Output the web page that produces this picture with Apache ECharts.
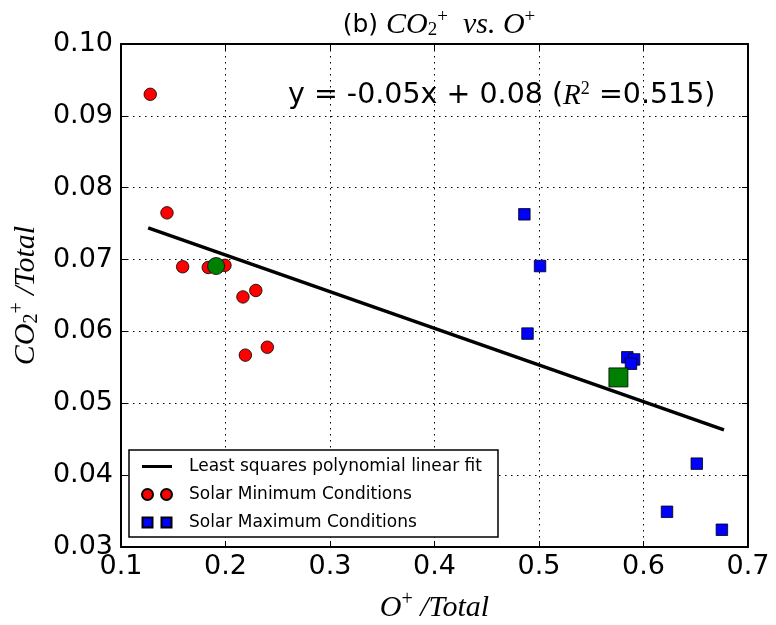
<!DOCTYPE html>
<html><head><meta charset="utf-8">
<script src="https://cdn.jsdelivr.net/npm/echarts@6/dist/echarts.min.js"></script>
<style>html,body{margin:0;padding:0;background:#fff}#c{width:776px;height:625px}</style>
</head><body><div id="c"></div>
<script>
// Solar minimum (red circles): [O+/Total, CO2+/Total]
const solarMin = [
  [0.128, 0.0930], [0.144, 0.0765], [0.159, 0.0690], [0.1835, 0.0689],
  [0.1995, 0.0692], [0.229, 0.0657], [0.2167, 0.0648], [0.240, 0.0578],
  [0.219, 0.0567]
];
// Solar maximum (blue squares)
const solarMax = [
  [0.486, 0.0763], [0.501, 0.0691], [0.489, 0.0597], [0.5845, 0.0564],
  [0.591, 0.0561], [0.588, 0.0555], [0.651, 0.0416], [0.6225, 0.0349],
  [0.675, 0.0324]
];
// Means
const minMean = [[0.191, 0.0691]];
const maxMean = [[0.576, 0.0536]];
// Least-squares fit endpoints
const fitLine = [[0.126, 0.0744], [0.677, 0.0463]];
const xTicks = [0.1, 0.2, 0.3, 0.4, 0.5, 0.6, 0.7];
const yTicks = [0.03, 0.04, 0.05, 0.06, 0.07, 0.08, 0.09, 0.10];

const chart = echarts.init(document.getElementById('c'), null, {renderer: 'canvas'});
const SERIF = 'Liberation Serif';
const tickFont = {fontFamily: 'DejaVu Sans', fontSize: 27, color: '#000'};
const dotted = {color: '#000', width: 1, type: [1.5, 4.5]};
const frame = {show: true, lineStyle: {color: '#000', width: 2}};
const tickIn = {show: true, inside: true, length: 6, lineStyle: {color: '#000', width: 1}};
const it = (size, extra) => Object.assign({fontFamily: SERIF, fontStyle: 'italic', fontWeight: 'normal', fontSize: size, color: '#000'}, extra || {});
const up = (size, pad) => ({fontFamily: SERIF, fontWeight: 'normal', fontSize: size, color: '#000', padding: [0, 0, pad, 0]});

chart.setOption({
  animation: false,
  backgroundColor: '#fff',
  grid: {left: 121, right: 28, top: 44, bottom: 78, containLabel: false, outerBoundsMode: 'none'},
  title: [{
    text: '{a|(b) }{b|CO}{s|2}{p|+}{b|  vs. O}{p|+}',
    left: 434, top: 3, textAlign: 'center',
    textStyle: {rich: {
      a: {fontFamily: 'DejaVu Sans', fontWeight: 'normal', fontSize: 25, color: '#000'},
      b: it(30),
      s: {fontFamily: SERIF, fontWeight: 'normal', fontSize: 19, color: '#000', padding: [10, 0, 0, 0]},
      p: up(19, 15)
    }}
  }, {
    text: '{a|y = -0.05x + 0.08 (}{b|R}{c|2}{a| =0.515)}',
    left: 283, top: 75,
    textStyle: {rich: {
      a: {fontFamily: 'DejaVu Sans', fontWeight: 'normal', fontSize: 28.5, color: '#000'},
      b: it(29),
      c: up(18, 14)
    }}
  }],
  legend: {
    orient: 'vertical', left: 129, top: 450,
    backgroundColor: '#fff', borderColor: '#000', borderWidth: 1.5,
    padding: [8, 16, 6, 12], itemGap: 11, itemWidth: 30, itemHeight: 11,
    textStyle: {fontFamily: 'DejaVu Sans', fontSize: 17, color: '#000', padding: [0, 0, 0, 12]},
    data: [
      {name: 'Least squares polynomial linear fit', icon: 'path://M0,0M30,11M0,4h30v3h-30z', itemStyle: {color: '#000', borderWidth: 0}},
      {name: 'Solar Minimum Conditions', icon: 'path://M0,5.5a5.5,5.5 0 1,0 11,0a5.5,5.5 0 1,0 -11,0zM19,5.5a5.5,5.5 0 1,0 11,0a5.5,5.5 0 1,0 -11,0z'},
      {name: 'Solar Maximum Conditions', icon: 'path://M0.5,0.5h10v10h-10zM19.5,0.5h10v10h-10zM0,0M30,11'}
    ]
  },
  xAxis: [{
    type: 'value', min: 0.1, max: 0.7, interval: 0.1, position: 'bottom',
    name: '{b|O}{p|+}{b| /Total}', nameLocation: 'middle', nameGap: 43,
    nameTextStyle: {rich: {b: it(30), p: up(20, 16)}},
    axisLine: frame, axisTick: tickIn,
    axisLabel: Object.assign({margin: 6, formatter: v => xTicks.includes(+v.toFixed(1)) ? v.toFixed(1) : ''}, tickFont),
    splitLine: {show: true, lineStyle: dotted}
  }, {
    type: 'value', min: 0.1, max: 0.7, interval: 0.1, position: 'top',
    axisLine: frame, axisTick: tickIn, axisLabel: {show: false}, splitLine: {show: false}
  }],
  yAxis: [{
    type: 'value', min: 0.03, max: 0.10, interval: 0.01, position: 'left',
    name: '{b|CO}{s|2}{p|+}{b| /Total}', nameLocation: 'middle', nameGap: 76,
    nameTextStyle: {rich: {
      b: it(30),
      s: {fontFamily: SERIF, fontWeight: 'normal', fontSize: 20, color: '#000', padding: [12, 0, 0, 0]},
      p: up(20, 16)
    }},
    axisLine: frame, axisTick: tickIn,
    axisLabel: Object.assign({margin: 8, formatter: v => yTicks.some(t => Math.abs(t - v) < 1e-9) ? v.toFixed(2) : ''}, tickFont),
    splitLine: {show: true, lineStyle: dotted}
  }, {
    type: 'value', min: 0.03, max: 0.10, interval: 0.01, position: 'right',
    axisLine: frame, axisTick: tickIn, axisLabel: {show: false}, splitLine: {show: false}
  }],
  series: [{
    name: 'Least squares polynomial linear fit', type: 'line', data: fitLine,
    symbol: 'none', lineStyle: {color: '#000', width: 3.5}, itemStyle: {color: '#000'}, z: 3
  }, {
    name: 'Solar Minimum Conditions', type: 'scatter', data: solarMin,
    symbol: 'circle', symbolSize: 12.5,
    itemStyle: {color: '#ff0000', borderColor: '#000', borderWidth: 0.8, opacity: 1}, z: 4
  }, {
    name: 'Solar Maximum Conditions', type: 'scatter', data: solarMax,
    symbol: 'rect', symbolSize: 11.5,
    itemStyle: {color: '#0000ff', borderColor: '#000', borderWidth: 0.8, opacity: 1}, z: 4
  }, {
    name: 'minMean', type: 'scatter', data: minMean, symbol: 'circle', symbolSize: 17,
    itemStyle: {color: '#007f00', borderColor: '#000', borderWidth: 0.8, opacity: 1}, z: 5
  }, {
    name: 'maxMean', type: 'scatter', data: maxMean, symbol: 'rect', symbolSize: 19,
    itemStyle: {color: '#007f00', borderColor: '#000', borderWidth: 0.8, opacity: 1}, z: 5
  }]
});
</script></body></html>
